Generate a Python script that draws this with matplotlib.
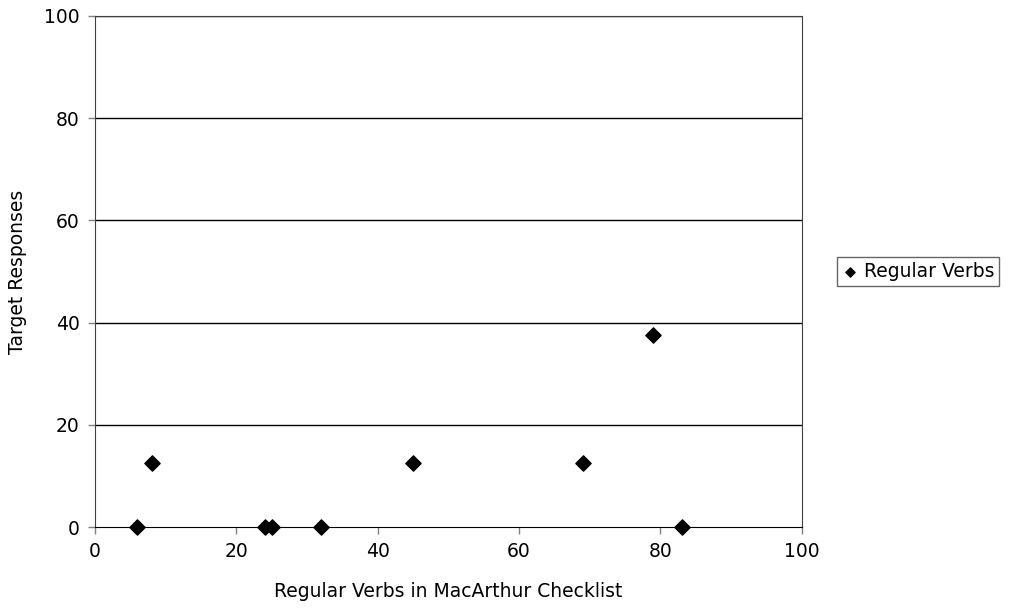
import matplotlib
matplotlib.use('Agg')
import matplotlib.pyplot as plt

verbs_checklist = [6, 8, 24, 25, 32, 45, 69, 79, 83]
target_responses = [0, 12.5, 0, 0, 0, 12.5, 12.5, 37.5, 0]
x_ticks = [0, 20, 40, 60, 80, 100]
y_ticks = [0, 20, 40, 60, 80, 100]

plt.rcParams['font.family'] = ['DejaVu Sans']
plt.rcParams['font.size'] = 13.5

fig = plt.figure(figsize=(10.14, 6.1), dpi=100)
ax = fig.add_axes([0.0937, 0.136, 0.697, 0.838])

for y in y_ticks[1:]:
    ax.axhline(y, color='black', lw=1, zorder=1)

ax.scatter(verbs_checklist, target_responses, marker='D', s=60, color='black',
           label='Regular Verbs', zorder=3, clip_on=False)

ax.set_xlim(0, 100)
ax.set_ylim(0, 100)
ax.set_xticks(x_ticks)
ax.set_yticks(y_ticks)
ax.tick_params(direction='out', length=5, color='#808080', width=1, pad=6)
for s in ax.spines.values():
    s.set_color('#404040')
ax.spines['bottom'].set_color('black')

ax.set_xlabel('Regular Verbs in MacArthur Checklist', labelpad=15)
ax.set_ylabel('Target Responses', labelpad=12)

leg = ax.legend(loc='center left', bbox_to_anchor=(1.05, 0.5), frameon=True,
                fancybox=False, handletextpad=0.3, borderpad=0.25,
                handlelength=0.9, markerscale=0.6, borderaxespad=0)
leg.get_frame().set_edgecolor('#404040')
leg.get_frame().set_linewidth(1)

fig.savefig('out.png', dpi=100)
